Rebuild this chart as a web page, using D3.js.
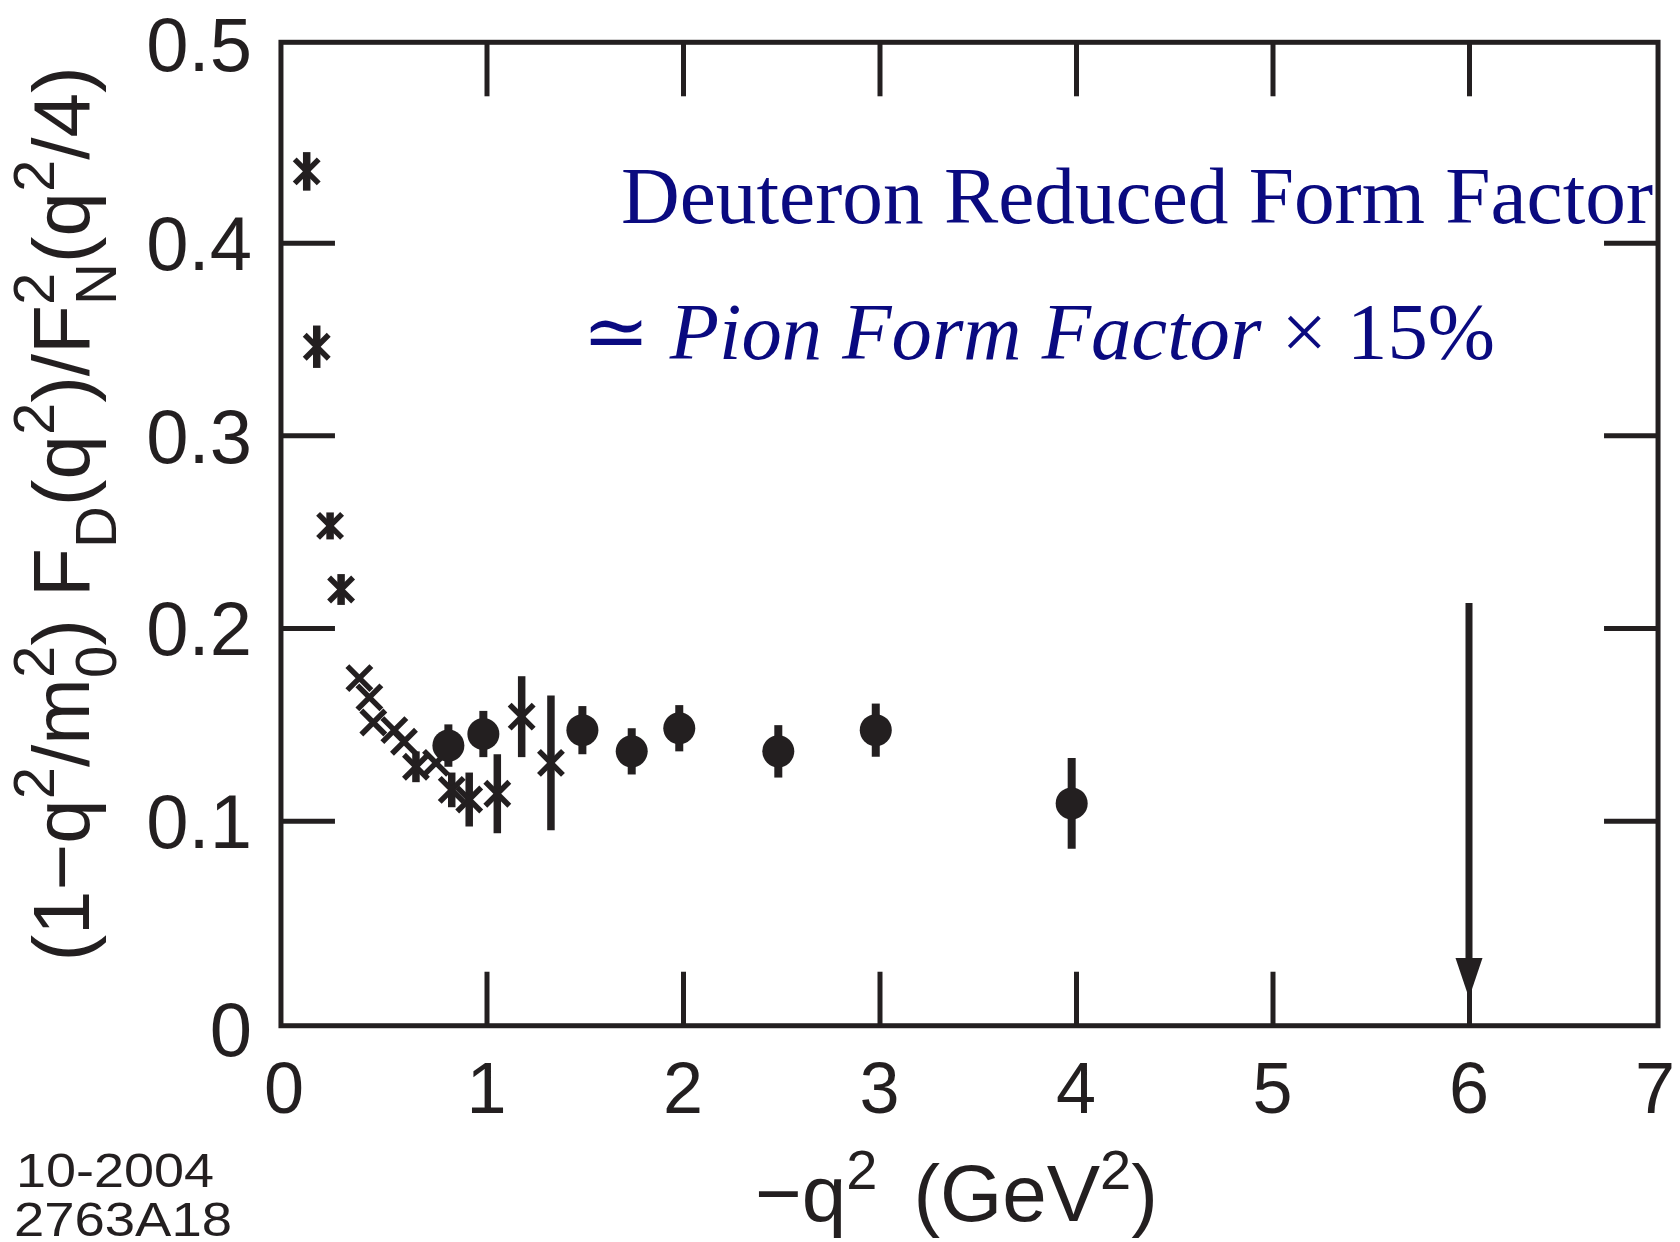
<!DOCTYPE html>
<html>
<head>
<meta charset="utf-8">
<script src="https://cdn.jsdelivr.net/npm/d3@7"></script>
<style>
  body { margin: 0; background: #fff; }
  svg { display: block; }
  .sans { font-family: "Liberation Sans", Arial, Helvetica, sans-serif; }
  .serif { font-family: "Liberation Serif", "Times New Roman", "DejaVu Serif", serif; }
</style>
</head>
<body>
<svg width="1680" height="1242"></svg>
<script>
// x-marker series (lower q^2), with error bars
var crossX   = [0.085, 0.136, 0.204, 0.260, 0.353, 0.404, 0.424, 0.531, 0.580, 0.641, 0.743, 0.823, 0.912, 1.055, 1.179, 1.328];
var crossY   = [0.437, 0.346, 0.253, 0.220, 0.174, 0.164, 0.151, 0.147, 0.141, 0.128, 0.130, 0.116, 0.111, 0.114, 0.154, 0.130];
var crossErr = [0.010, 0.011, 0.007, 0.008, 0,     0,     0,     0,     0,     0.008, 0,     0.009, 0.014, 0.0205, 0.021, 0.035];

// filled circle series
var dotX   = [0.806, 0.984, 1.488, 1.739, 1.981, 2.485, 2.981, 3.978];
var dotY   = [0.139, 0.145, 0.147, 0.136, 0.148, 0.136, 0.147, 0.109];
var dotErr = [0.011, 0.012, 0.0125, 0.012, 0.012, 0.0136, 0.0138, 0.0235];

var xTickVals = [0, 1, 2, 3, 4, 5, 6, 7];
var xTickLabels = ["0", "1", "2", "3", "4", "5", "6", "7"];
var yTickVals = [0, 0.1, 0.2, 0.3, 0.4, 0.5];
var yTickLabels = ["0", "0.1", "0.2", "0.3", "0.4", "0.5"];

// arrow at -q^2 = 6
var arrowX = 6, arrowTop = 0.213, arrowTip = 0.008;

var ink = "#231f20";
var navy = "#0a0a80";

var svg = d3.select("svg");
svg.append("rect").attr("width", 1680).attr("height", 1242).attr("fill", "#fff");

var x = d3.scaleLinear().domain([0, 7]).range([290, 1665.5]);
var y = d3.scaleLinear().domain([0, 0.5]).range([1013.4, 50]);

// frame is drawn a little outside the 0..7 / 0..0.5 range, as in the original
var fx0 = x(-0.046), fx1 = x(6.962);
var fy0 = y(-0.0064), fy1 = y(0.504);

var tickLen = 54;

// inward ticks on all four sides
svg.append("g").attr("transform", "translate(0," + fy0 + ")")
    .call(d3.axisBottom(x).tickValues([1, 2, 3, 4, 5, 6]).tickSize(-tickLen).tickFormat(""));
svg.append("g").attr("transform", "translate(0," + fy1 + ")")
    .call(d3.axisTop(x).tickValues([1, 2, 3, 4, 5, 6]).tickSize(-tickLen).tickFormat(""));
svg.append("g").attr("transform", "translate(" + fx0 + ",0)")
    .call(d3.axisLeft(y).tickValues([0.1, 0.2, 0.3, 0.4]).tickSize(-tickLen).tickFormat(""));
svg.append("g").attr("transform", "translate(" + fx1 + ",0)")
    .call(d3.axisRight(y).tickValues([0.1, 0.2, 0.3, 0.4]).tickSize(-tickLen).tickFormat(""));

svg.selectAll(".domain").remove();
svg.selectAll(".tick line").attr("stroke", ink).attr("stroke-width", 5);

svg.append("rect")
    .attr("x", fx0).attr("y", fy1)
    .attr("width", fx1 - fx0).attr("height", fy0 - fy1)
    .attr("fill", "none").attr("stroke", ink).attr("stroke-width", 5);

// tick labels (end labels sit on the frame edges)
svg.selectAll(".xlab")
    .data(xTickVals)
    .enter().append("text")
    .attr("class", "sans")
    .attr("x", function(d, i) {
        if (i === 0) return fx0 + 3;
        if (i === xTickVals.length - 1) return fx1 - 3;
        return x(d);
    })
    .attr("y", 1113)
    .attr("text-anchor", "middle")
    .style("font-size", "72px")
    .attr("fill", ink)
    .text(function(d, i) { return xTickLabels[i]; });

svg.selectAll(".ylab")
    .data(yTickVals)
    .enter().append("text")
    .attr("class", "sans")
    .attr("x", 252)
    .attr("y", function(d, i) {
        if (i === 0) return fy0 + 3;
        if (i === yTickVals.length - 1) return fy1 + 1;
        return y(d);
    })
    .attr("dy", "0.36em")
    .attr("text-anchor", "end")
    .style("font-size", "76px")
    .attr("fill", ink)
    .text(function(d, i) { return yTickLabels[i]; });

// error bars
var crosses = crossX.map(function(v, i) { return {x: v, y: crossY[i], e: crossErr[i]}; });
var dots = dotX.map(function(v, i) { return {x: v, y: dotY[i], e: dotErr[i]}; });

svg.selectAll(".cerr")
    .data(crosses.filter(function(d) { return d.e > 0; }))
    .enter().append("line")
    .attr("x1", function(d) { return x(d.x); })
    .attr("x2", function(d) { return x(d.x); })
    .attr("y1", function(d) { return y(d.y + d.e); })
    .attr("y2", function(d) { return y(d.y - d.e); })
    .attr("stroke", ink).attr("stroke-width", 7.5);

svg.selectAll(".derr")
    .data(dots)
    .enter().append("line")
    .attr("x1", function(d) { return x(d.x); })
    .attr("x2", function(d) { return x(d.x); })
    .attr("y1", function(d) { return y(d.y + d.e); })
    .attr("y2", function(d) { return y(d.y - d.e); })
    .attr("stroke", ink).attr("stroke-width", 8);

// x markers
var s = 12;
svg.selectAll(".cross")
    .data(crosses)
    .enter().append("path")
    .attr("d", function(d) {
        var cx = x(d.x), cy = y(d.y);
        return "M" + (cx - s) + "," + (cy - s) + "L" + (cx + s) + "," + (cy + s) +
               "M" + (cx - s) + "," + (cy + s) + "L" + (cx + s) + "," + (cy - s);
    })
    .attr("stroke", ink).attr("stroke-width", 5.5).attr("fill", "none");

svg.selectAll(".dot")
    .data(dots)
    .enter().append("circle")
    .attr("cx", function(d) { return x(d.x); })
    .attr("cy", function(d) { return y(d.y); })
    .attr("r", 16)
    .attr("fill", ink);

// arrow
svg.append("line")
    .attr("x1", x(arrowX)).attr("x2", x(arrowX))
    .attr("y1", y(arrowTop)).attr("y2", y(arrowTip) - 30)
    .attr("stroke", ink).attr("stroke-width", 7);
svg.append("line")
    .attr("x1", x(arrowX)).attr("x2", x(arrowX))
    .attr("y1", y(arrowTip) - 5).attr("y2", fy0)
    .attr("stroke", ink).attr("stroke-width", 4);
svg.append("path")
    .attr("d", "M" + (x(arrowX) - 13.5) + "," + (y(arrowTip) - 40) +
               "L" + (x(arrowX) + 13.5) + "," + (y(arrowTip) - 40) +
               "L" + x(arrowX) + "," + y(arrowTip) + "Z")
    .attr("fill", ink);

// titles
svg.append("text")
    .attr("class", "serif")
    .attr("x", 621).attr("y", 223)
    .attr("fill", navy)
    .style("font-size", "80px")
    .attr("textLength", 1032)
    .attr("lengthAdjust", "spacingAndGlyphs")
    .text("Deuteron Reduced Form Factor");

var t2 = svg.append("text")
    .attr("class", "serif")
    .attr("x", 582).attr("y", 359)
    .attr("fill", navy)
    .style("font-size", "80px")
    .attr("textLength", 913)
    .attr("lengthAdjust", "spacingAndGlyphs");
t2.append("tspan").text("\u2243 ");
t2.append("tspan").style("font-style", "italic").text("Pion Form Factor");
t2.append("tspan").text(" \u00d7 15%");

// x axis title
var xt = svg.append("text")
    .attr("class", "sans")
    .attr("x", 755).attr("y", 1221)
    .attr("fill", ink)
    .style("font-size", "80px");
xt.append("tspan").text("\u2212q");
xt.append("tspan").attr("dy", -32).style("font-size", "56px").text("2");
xt.append("tspan").attr("dy", 32).attr("dx", 36).text("(GeV");
xt.append("tspan").attr("dy", -32).style("font-size", "56px").text("2");
xt.append("tspan").attr("dy", 32).text(")");

// y axis title, rotated
var sc = 58, up = 35, dn = 27;
var yt = svg.append("text")
    .attr("class", "sans")
    .attr("transform", "translate(89,514) rotate(-90)")
    .attr("text-anchor", "middle")
    .attr("fill", ink)
    .style("font-size", "80px");
yt.append("tspan").text("(1\u2212q");
yt.append("tspan").attr("dy", -up).style("font-size", sc + "px").text("2");
yt.append("tspan").attr("dy", up).text("/m");
yt.append("tspan").attr("dy", -up).style("font-size", sc + "px").text("2");
yt.append("tspan").attr("dy", up + dn).attr("dx", -0.556 * sc).style("font-size", sc + "px").text("0");
yt.append("tspan").attr("dy", -dn).text(") F");
yt.append("tspan").attr("dy", dn).style("font-size", sc + "px").text("D");
yt.append("tspan").attr("dy", -dn).text("(q");
yt.append("tspan").attr("dy", -up).style("font-size", sc + "px").text("2");
yt.append("tspan").attr("dy", up).text(")/F");
yt.append("tspan").attr("dy", -up).style("font-size", sc + "px").text("2");
yt.append("tspan").attr("dy", up + dn).attr("dx", -0.556 * sc).style("font-size", sc + "px").text("N");
yt.append("tspan").attr("dy", -dn).text("(q");
yt.append("tspan").attr("dy", -up).style("font-size", sc + "px").text("2");
yt.append("tspan").attr("dy", up).text("/4)");

// figure id
svg.append("text").attr("class", "sans")
    .attr("x", 16).attr("y", 1187)
    .attr("fill", ink).style("font-size", "48px")
    .attr("textLength", 198).attr("lengthAdjust", "spacingAndGlyphs")
    .text("10-2004");
svg.append("text").attr("class", "sans")
    .attr("x", 14).attr("y", 1236)
    .attr("fill", ink).style("font-size", "48px")
    .attr("textLength", 218).attr("lengthAdjust", "spacingAndGlyphs")
    .text("2763A18");
</script>
</body>
</html>
